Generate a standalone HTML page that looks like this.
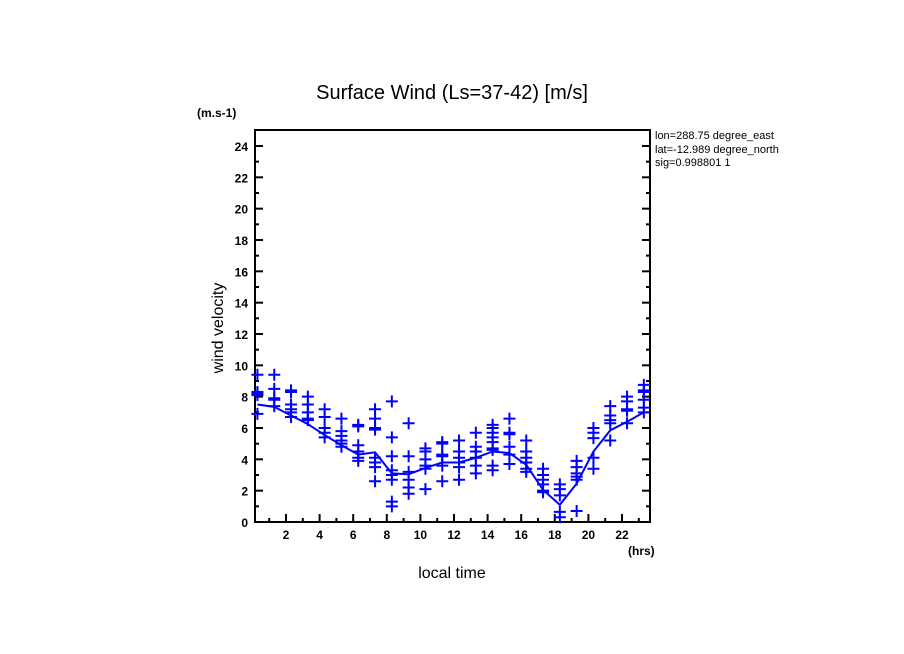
<!DOCTYPE html>
<html><head><meta charset="utf-8"><style>
body{margin:0;background:#fff}
svg{display:block;font-family:"Liberation Sans",sans-serif}
</style></head><body>
<svg id="c" width="904" height="654">
<defs><clipPath id="rc"><rect x="650" y="120" width="130" height="60"/></clipPath></defs>
<text x="452" y="99" font-size="20" text-anchor="middle">Surface Wind  (Ls=37-42) [m/s]</text>
<text x="197" y="117" font-size="12" font-weight="bold">(m.s-1)</text>
<text x="628" y="555" font-size="12" font-weight="bold">(hrs)</text>
<text x="452" y="578" font-size="16" text-anchor="middle">local time</text>
<text transform="translate(223,328) rotate(-90)" font-size="16" text-anchor="middle">wind velocity</text>
<g clip-path="url(#rc)" font-size="11">
<text x="655" y="139">lon=288.75 degree_east</text>
<text x="655" y="153">lat=-12.989 degree_north</text>
<text x="655" y="166">sig=0.998801 1</text>
</g>
<g id="axes"></g><g id="marks"></g>
</svg>
<script>
const hours=[0.3,1.3,2.3,3.3,4.3,5.3,6.3,7.3,8.3,9.3,10.3,11.3,12.3,13.3,14.3,15.3,16.3,17.3,18.3,19.3,20.3,21.3,22.3,23.3];
const meanWind=[7.5,7.35,6.8,6.25,5.55,4.9,4.3,4.45,3.1,3.05,3.45,3.8,3.8,4.1,4.5,4.4,3.65,2.05,1.1,2.45,4.5,5.85,6.4,7.0];
const samples=[
[9.4,8.3,8.2,8.1,6.9],
[9.4,8.5,7.9,7.8,7.4],
[8.4,8.3,7.5,7.2,7.0,6.7],
[8.0,7.5,7.0,6.6,6.5],
[7.2,6.7,6.0,5.7,5.4],
[6.6,5.8,5.5,5.2,5.0,4.8],
[6.2,6.1,4.9,4.5,4.1,3.9],
[7.2,6.6,6.0,5.9,4.1,3.8,3.5,2.6],
[7.7,5.4,4.2,3.3,3.0,2.7,1.3,1.0],
[6.3,4.2,3.2,2.7,2.2,1.8],
[4.7,4.5,4.0,3.6,3.4,2.1],
[5.1,5.0,4.3,4.2,3.6,2.6],
[5.2,4.5,4.1,3.8,3.5,2.7],
[5.7,4.8,4.5,4.1,3.6,3.1],
[6.2,6.0,5.7,5.4,5.1,4.7,4.6,3.6,3.3],
[6.6,5.7,5.6,4.8,4.3,3.7],
[5.2,4.5,4.1,3.8,3.4,3.2],
[3.4,3.0,2.7,2.4,2.0,1.9],
[2.4,2.1,1.7,0.65,0.3],
[3.9,3.5,3.1,2.9,2.7,0.7],
[6.0,5.7,5.35,4.1,3.4],
[7.4,6.8,6.5,6.3,5.2],
[8.0,7.7,7.2,7.1,6.3],
[8.75,8.4,8.3,7.8,7.3,7.0]];
const xTicks=[2,4,6,8,10,12,14,16,18,20,22];
const yTicks=[0,2,4,6,8,10,12,14,16,18,20,22,24];
const L=255,R=650,T=130,B=522;
const xs=h=>252.4+h*16.8;
const ys=v=>B-v*15.667;
const NS="http://www.w3.org/2000/svg";
function mk(t,a,p){const e=document.createElementNS(NS,t);for(const k in a)e.setAttribute(k,a[k]);p.appendChild(e);return e;}
const ax=document.getElementById('axes'),mg=document.getElementById('marks');
const fr=mk('rect',{x:L,y:T,width:R-L,height:B-T,fill:'none',stroke:'#000','stroke-width':2},ax);


for(let h=1;h<=23;h++){const X=xs(h),len=h%2==0?8:4;
 mk('line',{x1:X,x2:X,y1:B,y2:B-len,stroke:'#000','stroke-width':2},ax);}
xTicks.forEach(h=>{const t=mk('text',{x:xs(h),y:B+17,'font-size':12,'font-weight':'bold','text-anchor':'middle'},ax);t.textContent=h;
 
 });
for(let v=1;v<=24;v++){const Y=ys(v),len=v%2==0?8:4;
 mk('line',{x1:L,x2:L+len,y1:Y,y2:Y,stroke:'#000','stroke-width':2},ax);
 mk('line',{x1:R,x2:R-len,y1:Y,y2:Y,stroke:'#000','stroke-width':2},ax);}
yTicks.forEach(v=>{const t=mk('text',{x:L-7,y:ys(v)+5,'font-size':12,'font-weight':'bold','text-anchor':'end'},ax);t.textContent=v;
 
 });
const pl=mk('polyline',{points:hours.map((h,i)=>xs(h)+','+ys(meanWind[i])).join(' '),fill:'none',stroke:'#0000ff','stroke-width':2},mg);


samples.forEach((arr,i)=>arr.forEach(v=>{const X=xs(hours[i]),Y=ys(v);
 const p=mk('path',{d:`M${X-6},${Y}H${X+6}M${X},${Y-6}V${Y+6}`,stroke:'#0000ff','stroke-width':2,fill:'none'},mg);
 
 }));
</script>
</body></html>
